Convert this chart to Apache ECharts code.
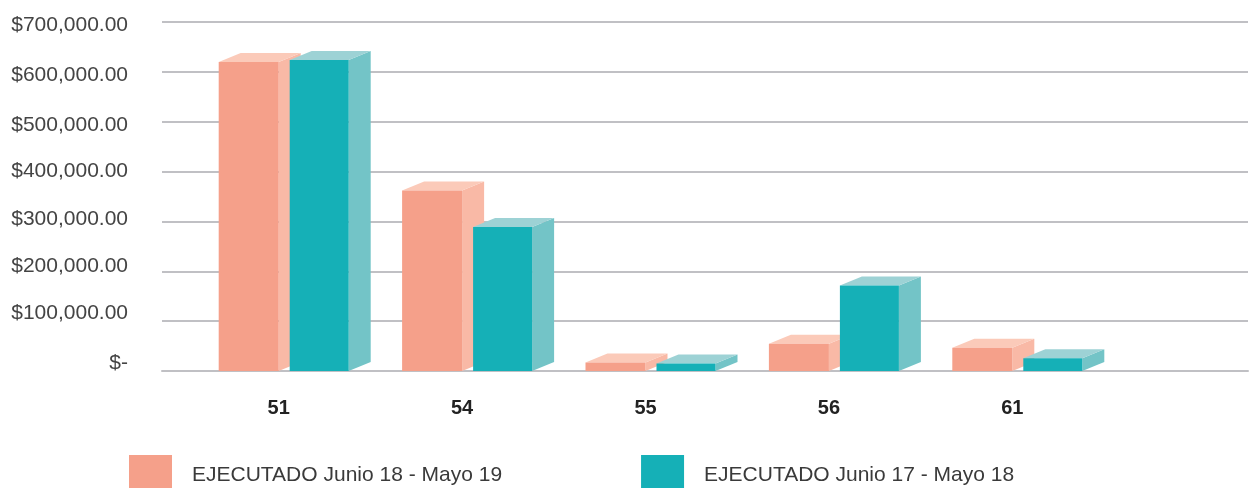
<!DOCTYPE html>
<html>
<head>
<meta charset="utf-8">
<script src="https://cdn.jsdelivr.net/npm/echarts@6/dist/echarts.min.js"></script>
<style>
  html, body { margin: 0; padding: 0; background: #fff; }
  #main { width: 1250px; height: 489px; }
</style>
</head>
<body>
<div id="main"></div>
<script>
const categories = ['51', '54', '55', '56', '61'];
const ejecutado1819 = [620000, 362000, 17000, 54600, 46400];
const ejecutado1718 = [624000, 289000, 15000, 171500, 25600];
const yTickLabels = ['$-', '$100,000.00', '$200,000.00', '$300,000.00',
  '$400,000.00', '$500,000.00', '$600,000.00', '$700,000.00'];
const seriesNames = ['EJECUTADO Junio 18 - Mayo 19', 'EJECUTADO Junio 17 - Mayo 18'];

const chart = echarts.init(document.getElementById('main'));

// 3d-ish box: front face + right side + top face
function box(offset, width, colors) {
  return function (params, api) {
    const top = api.coord([api.value(0), api.value(1)]);
    const base = api.coord([api.value(0), 0]);
    const x0 = top[0] + offset;
    const dx = 22, dy = 9;
    return {
      type: 'group',
      children: [
        {
          type: 'polygon',
          shape: { points: [[x0 + width, top[1]], [x0 + width + dx, top[1] - dy], [x0 + width + dx, base[1] - dy], [x0 + width, base[1]]] },
          style: { fill: colors[1] }
        },
        {
          type: 'polygon',
          shape: { points: [[x0, top[1]], [x0 + dx, top[1] - dy], [x0 + width + dx, top[1] - dy], [x0 + width, top[1]]] },
          style: { fill: colors[2] }
        },
        {
          type: 'rect',
          shape: { x: x0, y: top[1], width: width, height: base[1] - top[1] },
          style: { fill: colors[0] }
        }
      ]
    };
  };
}

const orange = ['#f5a08a', '#f9b9a6', '#fbcab9'];
const teal = ['#15b0b7', '#73c4c7', '#9dd2d5'];

// the original tick labels don't sit exactly on their gridlines
const labelShift = [-8, -8, -5, -2, 0, 3, 3, 3];
const yRich = {};
labelShift.forEach((d, i) => {
  yRich['s' + i] = {
    fontSize: 21,
    color: '#444',
    padding: d > 0 ? [2 * d, 0, 0, 0] : [0, 0, -2 * d, 0]
  };
});

const option = {
  backgroundColor: '#fff',
  textStyle: { fontFamily: 'Liberation Sans, Arial, sans-serif' },
  animation: false,
  legend: {
    left: 129,
    top: 455,
    padding: 0,
    itemWidth: 43,
    itemHeight: 33,
    itemGap: 139,
    formatter: '{t|{name}}',
    textStyle: {
      rich: { t: { fontSize: 21, color: '#3a3a3a', padding: [7, 0, 0, 15] } }
    },
    data: [
      { name: seriesNames[0], icon: 'rect' },
      { name: seriesNames[1], icon: 'rect' }
    ]
  },
  grid: [
    { left: 162, right: 2, top: 22, bottom: 118 },
    { left: 187, right: 146, top: 22, bottom: 118 }
  ],
  xAxis: [
    {
      gridIndex: 0,
      type: 'category',
      data: [''],
      axisLine: { lineStyle: { color: '#c0c0c4', width: 2 } },
      axisTick: { show: false },
      axisLabel: { show: false }
    },
    {
      gridIndex: 1,
      type: 'category',
      data: categories,
      axisLine: { show: false },
      axisTick: { show: false },
      axisLabel: { margin: 27, fontSize: 20, fontWeight: 'bold', color: '#222' }
    }
  ],
  yAxis: [
    {
      gridIndex: 0,
      type: 'value',
      min: 0,
      max: 700000,
      interval: 100000,
      axisLine: { show: false },
      axisTick: { show: false },
      axisLabel: {
        margin: 34,
        fontSize: 21,
        color: '#444',
        formatter: (v, i) => '{s' + i + '|' + yTickLabels[i] + '}',
        rich: yRich
      },
      splitLine: { lineStyle: { color: '#c0c0c4', width: 2 } }
    },
    {
      gridIndex: 1,
      type: 'value',
      min: 0,
      max: 700000,
      interval: 100000,
      show: false,
      splitLine: { show: false }
    }
  ],
  series: [
    {
      name: seriesNames[0],
      type: 'custom',
      xAxisIndex: 1,
      yAxisIndex: 1,
      itemStyle: { color: orange[0] },
      renderItem: box(-60, 60, orange),
      encode: { x: 0, y: 1 },
      data: categories.map((c, i) => [i, ejecutado1819[i]])
    },
    {
      name: seriesNames[1],
      type: 'custom',
      xAxisIndex: 1,
      yAxisIndex: 1,
      itemStyle: { color: teal[0] },
      renderItem: box(11, 59, teal),
      encode: { x: 0, y: 1 },
      data: categories.map((c, i) => [i, ejecutado1718[i]])
    }
  ]
};

chart.setOption(option);
</script>
</body>
</html>
